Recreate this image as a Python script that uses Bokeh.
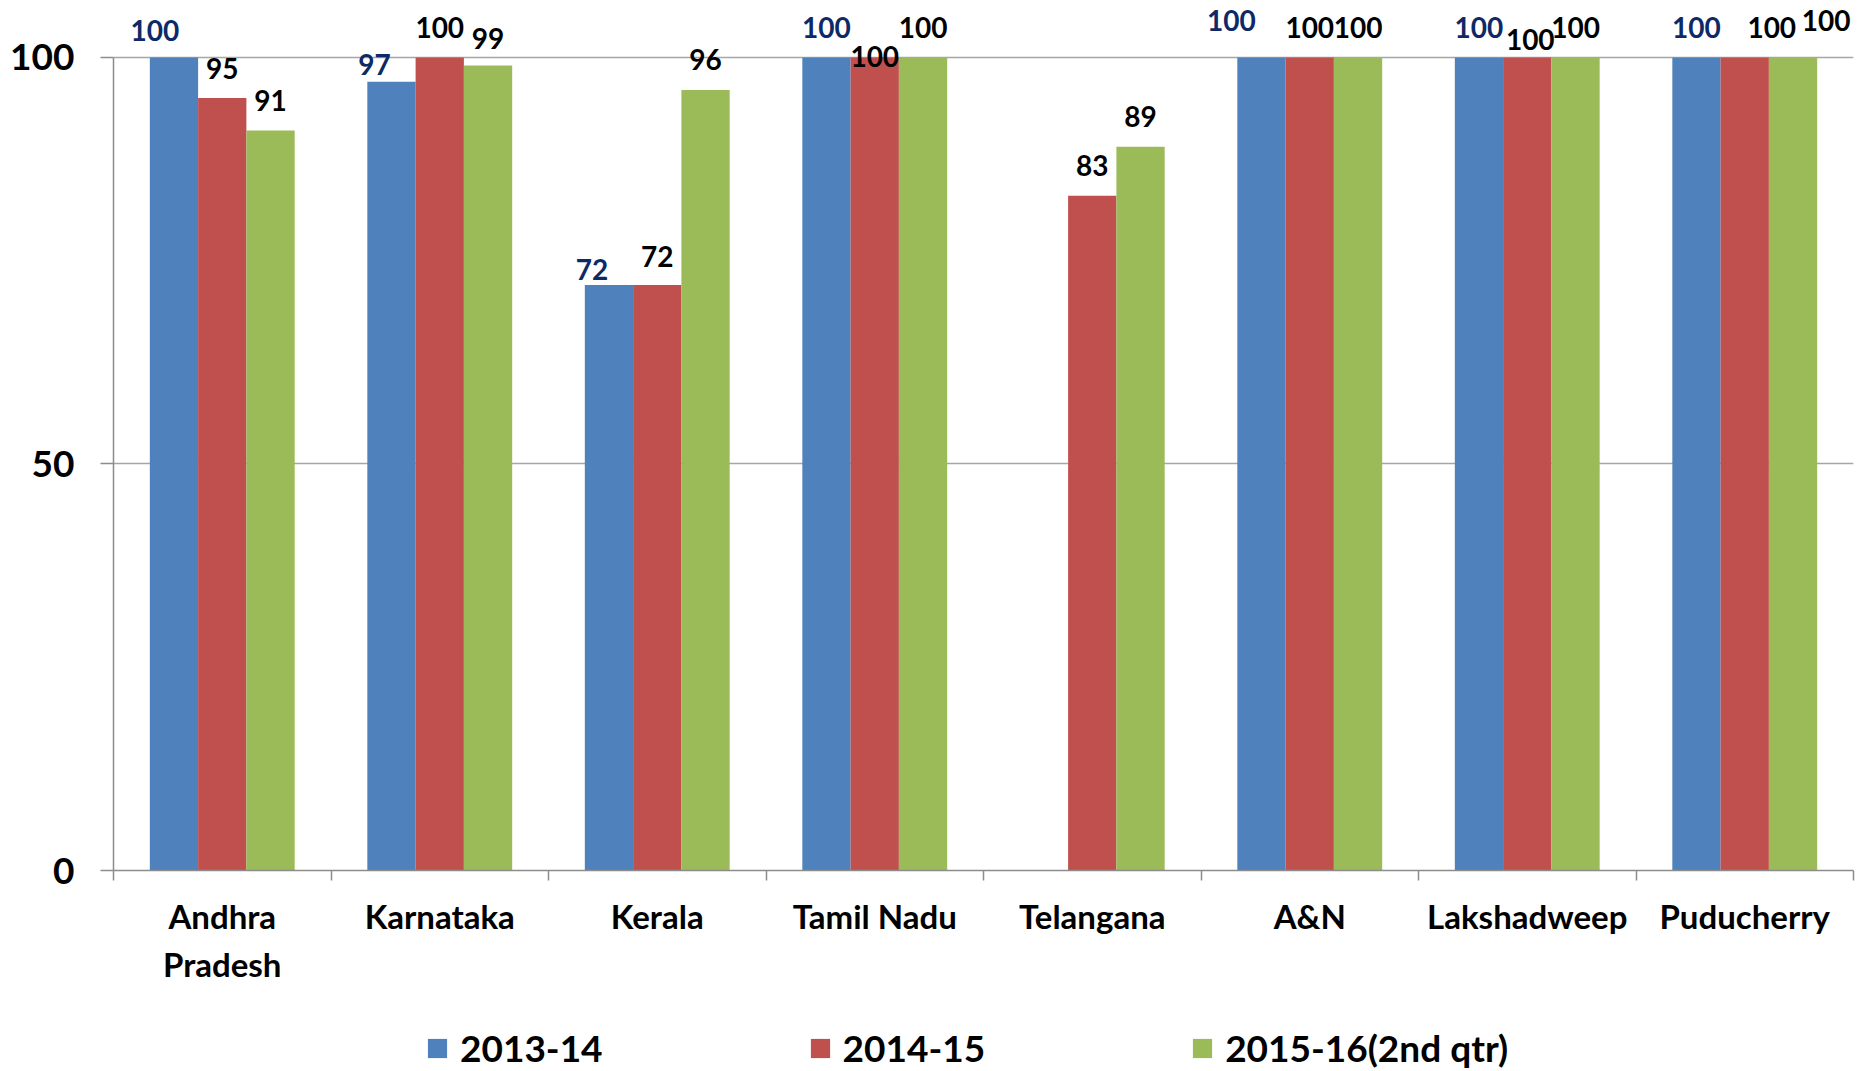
import numpy as np
from bokeh.plotting import figure
from bokeh.layouts import column
from bokeh.models import (Range1d, FixedTicker, LinearAxis, Legend, LegendItem,
                          ColumnDataSource, VBar)
from bokeh.core.properties import value
from bokeh.embed import file_html
from bokeh.resources import INLINE

# ---- data ----
categories = ["Andhra Pradesh", "Karnataka", "Kerala", "Tamil Nadu",
              "Telangana", "A&N", "Lakshadweep", "Puducherry"]
category_labels = ["Andhra\nPradesh", "Karnataka", "Kerala", "Tamil Nadu",
                   "Telangana", "A&N", "Lakshadweep", "Puducherry"]
series_names = ["2013-14", "2014-15", "2015-16(2nd qtr)"]
v_2013_14 = [100, 97, 72, 100, None, 100, 100, 100]
v_2014_15 = [95, 100, 72, 100, 83, 100, 100, 100]
v_2015_16 = [91, 99, 96, 100, 89, 100, 100, 100]
y_ticks = [0, 50, 100]

# ---- styles ----
colors = ["#4F81BD", "#C0504D", "#9BBB59"]
label_colors = ["#0D2A66", "#000000", "#000000"]
FONT = "Lato"
bar_w = 0.222
offsets = [-bar_w, 0.0, bar_w]
# per-label pixel nudges (dx, dy) mimicking the manually placed Excel labels
default_dy = -30
nudges = {
    (0, 0): (-19, -27), (1, 0): (-17, -17), (2, 0): (-17, -16),
    (3, 1): (0, -1), (5, 0): (-30, -37), (6, 1): (3, -18),
    (7, 1): (27, -30), (7, 2): (33, -37), (1, 2): (0, -27), (2, 1): (0, -29),
}

n = len(categories)
centers = np.arange(n) + 0.5

p = figure(width=1863, height=1000, output_backend="svg", toolbar_location=None,
           x_range=Range1d(0, n), y_range=Range1d(0, 107),
           x_axis_location=None, y_axis_location=None,
           min_border_left=113, min_border_right=10, min_border_top=0,
           min_border_bottom=130, outline_line_color=None)
p.background_fill_color = "white"
p.border_fill_color = "white"

all_series = [v_2013_14, v_2014_15, v_2015_16]
bar_sources = []
for si, vals in enumerate(all_series):
    tops = np.array([np.nan if v is None else v for v in vals], dtype=float)
    src = ColumnDataSource(dict(x=centers + offsets[si], top=tops))
    bar_sources.append(src)
    p.vbar(x="x", top="top", bottom=0, width=bar_w, source=src,
           fill_color=colors[si], line_color=None)

    lx, ly, lt, dxs, dys = [], [], [], [], []
    for ci, v in enumerate(vals):
        if v is None:
            continue
        dx, dy = nudges.get((ci, si), (0, default_dy))
        lx.append(centers[ci] + offsets[si]); ly.append(v)
        lt.append(str(v)); dxs.append(dx); dys.append(dy)
    lsrc = ColumnDataSource(dict(x=lx, y=ly, t=lt, dx=dxs, dy=dys))
    p.text(x="x", y="y", text="t", x_offset="dx", y_offset="dy", source=lsrc,
           text_align="center", text_baseline="middle",
           text_font=value(FONT), text_font_style="bold",
           text_font_size="28px", text_color=label_colors[si])

# grid
p.xgrid.visible = False
p.ygrid.ticker = FixedTicker(ticks=[t for t in y_ticks if t > 0])
p.ygrid.grid_line_color = "#A6A6A6"
p.ygrid.grid_line_width = 1.5

# y axis
ya = LinearAxis(ticker=FixedTicker(ticks=y_ticks), bounds=(0, 100),
                axis_line_color="#8C8C8C", axis_line_width=1.5,
                major_tick_line_color="#8C8C8C", major_tick_line_width=1.5,
                major_tick_out=13, major_tick_in=0, minor_tick_line_color=None,
                major_label_standoff=26,
                major_label_text_font=FONT, major_label_text_font_style="bold",
                major_label_text_font_size="37px", major_label_text_color="black")
p.add_layout(ya, "left")

# x axis: boundary ticks (no labels)
bounds_ticks = list(range(n + 1))
xa_ticks = LinearAxis(ticker=FixedTicker(ticks=bounds_ticks),
                      major_label_overrides={t: "" for t in bounds_ticks},
                      axis_line_color="#8C8C8C", axis_line_width=1.5,
                      major_tick_line_color="#8C8C8C", major_tick_line_width=1.5,
                      major_tick_out=10, major_tick_in=0,
                      minor_tick_line_color=None, major_label_standoff=0)
p.add_layout(xa_ticks, "below")

# x axis: category names
xa_labels = LinearAxis(ticker=FixedTicker(ticks=list(centers)),
                       major_label_overrides={float(c): lab for c, lab in zip(centers, category_labels)},
                       axis_line_color=None, major_tick_line_color=None,
                       minor_tick_line_color=None, major_label_standoff=9,
                       major_label_text_font=FONT, major_label_text_font_style="bold",
                       major_label_text_font_size="33px", major_label_text_color="black")
p.add_layout(xa_labels, "below")

# legend strip (hidden copies of the bar renderers supply the swatches)
lf = figure(width=1863, height=71, output_backend="svg", toolbar_location=None,
            x_range=Range1d(0, 1), y_range=Range1d(0, 1),
            x_axis_location=None, y_axis_location=None,
            min_border=0, outline_line_color=None)
lf.xgrid.visible = False
lf.ygrid.visible = False
items = []
for si, name in enumerate(series_names):
    r = lf.add_glyph(bar_sources[si], VBar(x="x", top="top", bottom=0, width=bar_w,
                                           fill_color=colors[si], line_color=None))
    r.visible = False
    items.append(LegendItem(label=name, renderers=[r]))
legend = Legend(items=items, orientation="horizontal", location=(312, 1),
                spacing=205, glyph_width=24, glyph_height=24, label_standoff=11,
                label_text_font=FONT, label_text_font_style="bold",
                label_text_font_size="37px", label_text_color="black",
                border_line_color=None, background_fill_alpha=0,
                inactive_fill_alpha=0, padding=0, margin=0)
lf.add_layout(legend, "center")

layout = column(p, lf, spacing=0)
open("out.html", "w").write(file_html(layout, INLINE))
